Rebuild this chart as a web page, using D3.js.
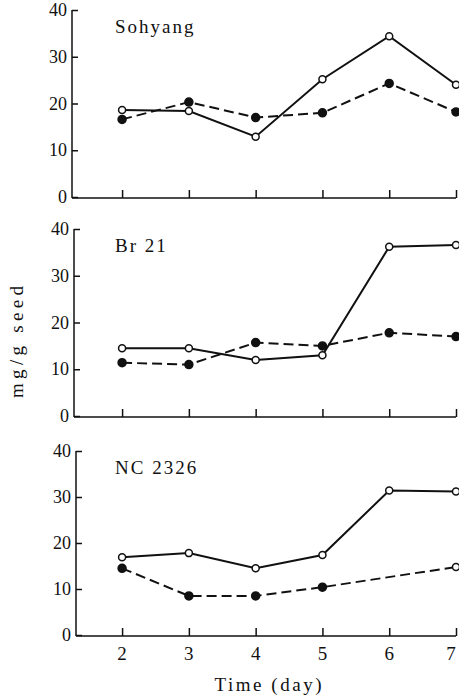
<!DOCTYPE html>
<html>
<head>
<meta charset="utf-8">
<script src="https://cdn.jsdelivr.net/npm/d3@7"></script>
<style>
  body { margin: 0; background: #fff; }
  svg text { font-family: "Liberation Serif", "DejaVu Serif", serif; fill: #111; }
</style>
</head>
<body>
<svg id="chart" width="459" height="698"></svg>
<script>
// Data (mg/g seed by day)
const days = [2, 3, 4, 5, 6, 7];
const yTicks = [0, 10, 20, 30, 40];
const cultivars = ['Sohyang', 'Br 21', 'NC 2326'];

// open circles, solid line
const openSohyang = [18.6, 18.4, 12.9, 25.2, 34.4, 24.0];
const openBr21 = [14.5, 14.5, 12.0, 13.0, 36.2, 36.6];
const openNC2326 = [16.9, 17.8, 14.5, 17.4, 31.4, 31.2];

// filled circles, dashed line (NC 2326 has no day 6 point, day 7 drawn open)
const filledSohyang = [16.6, 20.3, 17.0, 18.0, 24.3, 18.2];
const filledBr21 = [11.4, 11.0, 15.7, 15.0, 17.8, 17.0];
const filledNC2326 = [14.5, 8.5, 8.5, 10.4, null, 14.8];
const filledNC2326Open = [false, false, false, false, false, true];

const panels = [
    { name: cultivars[0], open: openSohyang, filled: filledSohyang, top: 10, bottom: 197, axisX: 72, xLabels: false },
    { name: cultivars[1], open: openBr21, filled: filledBr21, top: 229, bottom: 416, axisX: 74, xLabels: false },
    { name: cultivars[2], open: openNC2326, filled: filledNC2326, filledOpen: filledNC2326Open, top: 451, bottom: 635, axisX: 76, xLabels: true }
];

const svg = d3.select('#chart');

const x = d3.scaleLinear()
    .domain([1.25, 7])
    .range([72, 456]);

panels.forEach(p => {
    const y = d3.scaleLinear().domain([0, 40]).range([p.bottom, p.top]);
    const g = svg.append('g');

    // y axis (ticks point inward)
    const yAxis = g.append('g')
        .attr('transform', `translate(${p.axisX},0)`)
        .call(d3.axisRight(y).tickValues(yTicks).tickSize(6).tickFormat(''));
    yAxis.select('.domain').attr('d', `M0,${p.top}V${p.bottom + 1}`);
    yAxis.selectAll('path, line').attr('stroke', '#111').attr('stroke-width', 1.5);

    g.selectAll('.ylab')
        .data(yTicks)
        .enter()
        .append('text')
        .attr('x', p.axisX - 5)
        .attr('y', d => y(d) + 6)
        .attr('text-anchor', 'end')
        .attr('font-size', '18px')
        .text(d => d);

    // x axis (ticks point up)
    const xAxis = g.append('g')
        .attr('transform', `translate(0,${p.bottom + 1})`)
        .call(d3.axisTop(x).tickValues(days).tickSize(8).tickFormat(''));
    xAxis.select('.domain').attr('d', `M${p.axisX},0H${x(7)}`);
    xAxis.selectAll('path, line').attr('stroke', '#111').attr('stroke-width', 1.5);

    if (p.xLabels) {
        g.selectAll('.xlab')
            .data(days)
            .enter()
            .append('text')
            .attr('x', d => Math.min(x(d), 451))
            .attr('y', p.bottom + 25)
            .attr('text-anchor', 'middle')
            .attr('font-size', '19px')
            .text(d => d);
    }

    // cultivar label
    g.append('text')
        .attr('x', 115)
        .attr('y', p.top + 23)
        .attr('font-size', '19px')
        .attr('letter-spacing', '2px')
        .text(p.name);

    const line = d3.line()
        .defined(d => d.v !== null)
        .x(d => x(d.day))
        .y(d => y(d.v));

    const openPts = days.map((day, i) => ({ day, v: p.open[i] }));
    const filledPts = days.map((day, i) => ({ day, v: p.filled[i], hollow: p.filledOpen ? p.filledOpen[i] : false }))
        .filter(d => d.v !== null);

    g.append('path')
        .datum(filledPts)
        .attr('fill', 'none')
        .attr('stroke', '#111')
        .attr('stroke-width', 2)
        .attr('stroke-dasharray', '10,5')
        .attr('d', line);

    g.append('path')
        .datum(openPts)
        .attr('fill', 'none')
        .attr('stroke', '#111')
        .attr('stroke-width', 2)
        .attr('d', line);

    g.selectAll('.fpt')
        .data(filledPts)
        .enter()
        .append('circle')
        .attr('cx', d => x(d.day))
        .attr('cy', d => y(d.v))
        .attr('r', d => d.hollow ? 3.5 : 4)
        .attr('fill', d => d.hollow ? '#fff' : '#111')
        .attr('stroke', '#111')
        .attr('stroke-width', 1.5);

    g.selectAll('.opt')
        .data(openPts)
        .enter()
        .append('circle')
        .attr('cx', d => x(d.day))
        .attr('cy', d => y(d.v))
        .attr('r', 3.5)
        .attr('fill', '#fff')
        .attr('stroke', '#111')
        .attr('stroke-width', 1.5);
});

// axis titles
svg.append('text')
    .attr('transform', 'translate(23,342) rotate(-90)')
    .attr('text-anchor', 'middle')
    .attr('font-size', '19px')
    .attr('textLength', 112)
    .attr('lengthAdjust', 'spacing')
    .text('mg/g seed');

svg.append('text')
    .attr('x', 268)
    .attr('y', 691)
    .attr('text-anchor', 'middle')
    .attr('font-size', '19px')
    .attr('textLength', 107)
    .attr('lengthAdjust', 'spacing')
    .text('Time (day)');
</script>
</body>
</html>
